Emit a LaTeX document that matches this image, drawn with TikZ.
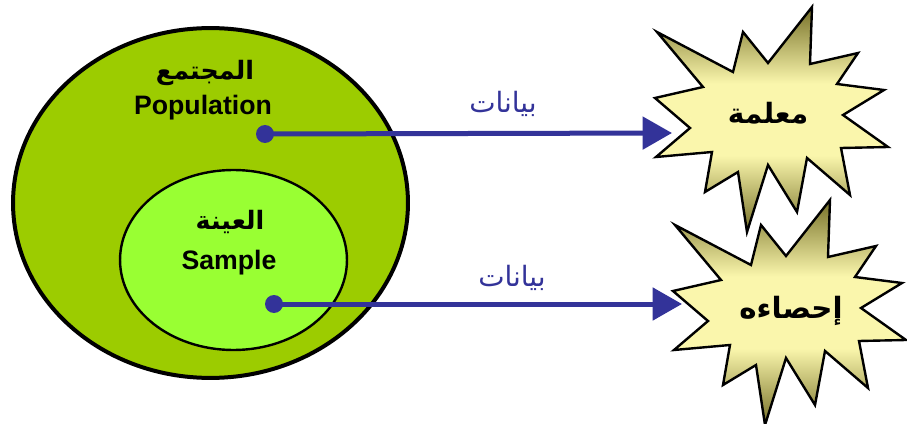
\documentclass[tikz,border=0pt]{standalone}
\usepackage{fontspec}
\setmainfont{Liberation Sans}
\newfontfamily\arabicfont[Script=Arabic]{DejaVu Sans}
\TeXXeTstate=1
\usetikzlibrary{arrows.meta}

\definecolor{popgreen}{RGB}{156,204,0}
\definecolor{smpgreen}{RGB}{153,255,51}
\definecolor{flowblue}{RGB}{51,51,153}
\definecolor{burstlight}{RGB}{250,246,172}
\definecolor{burstdark}{RGB}{118,112,40}

% light centre fading to olive at the top and bottom tips
\pgfdeclareverticalshading{burstshade}{100bp}{
  color(0bp)=(burstdark); color(25bp)=(burstdark); color(42bp)=(burstlight);
  color(58bp)=(burstlight); color(75bp)=(burstdark); color(100bp)=(burstdark)}

% outline of the burst shape, in pixel-like units
\def\burstoutline{(812,7) -- (810,64) -- (858,53) -- (837,84) -- (884,90) -- (843,115)
  -- (888,147) -- (841,148) -- (850,195) -- (807,158) -- (797,212) -- (768,165)
  -- (747,232) -- (738,172) -- (705,192) -- (712,152) -- (656,157) -- (690,128)
  -- (655,98) -- (703,87) -- (657,32) -- (733,72) -- (743,32) -- (768,63) -- cycle}

\tikzset{
  setfill/.style={draw=black, fill=#1},
  latinlabel/.style={font=\bfseries\fontsize{20}{24}\selectfont, inner sep=0pt},
  arlabel/.style={font=\arabicfont\bfseries\fontsize{19}{22}\selectfont, inner sep=0pt},
  burstlabel/.style={font=\arabicfont\bfseries\fontsize{21}{24}\selectfont, inner sep=0pt},
  datalabel/.style={font=\arabicfont\fontsize{21}{24}\selectfont, text=flowblue, inner sep=0pt},
  anchordot/.style={circle, fill=flowblue, minimum size=13.5pt, inner sep=0pt},
  flow/.style={draw=flowblue, line width=3.75pt, -{Triangle[length=22pt,width=24pt]}},
  burst/.style={draw=black, line width=1.8pt, line join=miter, shading=burstshade},
}

\begin{document}
\begin{tikzpicture}[x=0.75pt, y=-0.75pt]
  \useasboundingbox (0,0) rectangle (907,424);

  % population and sample sets
  \draw[setfill=popgreen, line width=3pt] (210.5,203) ellipse [x radius=148.1pt, y radius=131.2pt];
  \draw[setfill=smpgreen, line width=1.8pt] (233.5,260) ellipse [x radius=85.1pt, y radius=67.5pt];

  \node[arlabel] (popar) at (205,73) {\beginR المجتمع\endR};
  \node[latinlabel] (popen) at (203,108) {Population};
  \node[arlabel] (smpar) at (230,222) {\beginR العينة\endR};
  \node[latinlabel] (smpen) at (229,263) {Sample};

  % bursts
  \path[burst] \burstoutline;
  \begin{scope}[shift={(18,193)}]
    \path[burst] \burstoutline;
  \end{scope}
  \node[burstlabel] (param) at (768,113) {\beginR معلمة\endR};
  \node[burstlabel, font=\arabicfont\bfseries\fontsize{22}{24}\selectfont] (stat) at (791,311) {\beginR إحصاءه\endR};

  % data flows
  \node[anchordot] (popdot) at (265,134) {};
  \node[anchordot] (smpdot) at (274,304) {};
  \coordinate (paramtip) at (672,133);
  \coordinate (stattip) at (682,304);
  \draw[flow] (popdot.center) -- (paramtip);
  \draw[flow] (smpdot.center) -- (stattip);
  \node[datalabel] (popdata) at (503,104) {\beginR بيانات\endR};
  \node[datalabel] (smpdata) at (512,278) {\beginR بيانات\endR};
\end{tikzpicture}
\end{document}
